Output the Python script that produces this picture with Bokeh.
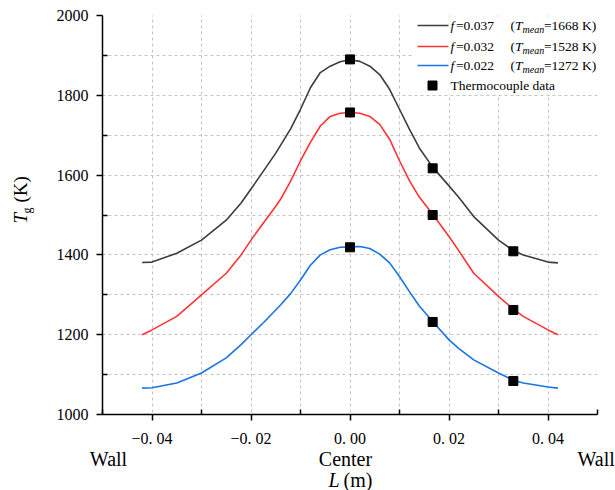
import math
from bokeh.plotting import figure
from bokeh.models import FixedTicker, Label, BoxAnnotation, Range1d
from bokeh.embed import file_html
from bokeh.resources import INLINE

# ---------------- data ----------------
L_pos = [-0.042, -0.040, -0.035, -0.030, -0.025, -0.022, -0.020, -0.0175, -0.015, -0.014,
         -0.012, -0.010, -0.008, -0.006, -0.004, -0.002, 0.0, 0.002, 0.004, 0.006, 0.008,
         0.010, 0.012, 0.014, 0.0167, 0.020, 0.022, 0.025, 0.030, 0.033, 0.035, 0.040, 0.042]
T_f037 = [1381, 1382, 1404, 1437, 1487, 1530, 1565, 1610, 1655, 1675,
          1716, 1765, 1819, 1857, 1873, 1884, 1889, 1885, 1873, 1852, 1815,
          1765, 1715, 1668, 1620, 1573, 1544, 1496, 1437, 1411, 1400, 1382, 1380]
T_f032 = [1200, 1212, 1246, 1300, 1354, 1400, 1437, 1480, 1522, 1540,
          1585, 1636, 1682, 1723, 1747, 1755, 1757, 1755, 1747, 1727, 1690,
          1636, 1586, 1545, 1502, 1446, 1410, 1354, 1296, 1264, 1246, 1212, 1200]
T_f022 = [1066, 1067, 1079, 1104, 1142, 1175, 1200, 1230, 1262, 1275,
          1303, 1337, 1374, 1400, 1413, 1419, 1420, 1421, 1416, 1402, 1380,
          1346, 1308, 1272, 1233, 1187, 1165, 1137, 1104, 1086, 1079, 1069, 1066]

tc_pos = [0.0, 0.0167, 0.033]
tc_f037 = [1890, 1617, 1409]
tc_f032 = [1757, 1500, 1262]
tc_f022 = [1419, 1232, 1084]

f_labels = ["0.037", "0.032", "0.022"]
tmean_labels = ["1668", "1528", "1272"]

x_major = [-0.04, -0.02, 0.0, 0.02, 0.04]
x_minor = [-0.05, -0.03, -0.01, 0.01, 0.03, 0.05]
x_tick_text = ["\u22120. 04", "\u22120. 02", "0. 00", "0. 02", "0. 04"]
x_grid = [-0.04, -0.03, -0.02, -0.01, 0.0, 0.01, 0.02, 0.03, 0.04]
y_major = [1000, 1200, 1400, 1600, 1800, 2000]
y_minor = [1100, 1300, 1500, 1700, 1900]
y_grid = [1100, 1200, 1300, 1400, 1500, 1600, 1700, 1800, 1900]

# ---------------- layout ----------------
W, H = 615, 490
PL, PT = 102, 15            # pixel position of (x=-0.05, T=2000)
SX, SY = 4950.0, 0.399      # px per unit x, px per K
XMIN, XMAX, YMIN, YMAX = -0.05, 0.05, 1000, 2000

def X(px):
    return XMIN + (px - PL) / SX

def Y(py):
    return YMAX - (py - PT) / SY

SERIF = "Liberation Serif"

p = figure(width=W, height=H, output_backend="svg", toolbar_location=None,
           x_range=Range1d(X(0), X(W)), y_range=Range1d(Y(H), Y(0)),
           min_border=0, min_border_left=0, min_border_right=0,
           min_border_top=0, min_border_bottom=0)
p.outline_line_color = None
p.background_fill_color = "white"
p.border_fill_color = "white"

# axes drawn at fixed locations inside the full-canvas frame
xa, ya = p.xaxis[0], p.yaxis[0]
xa.fixed_location = YMIN
ya.fixed_location = XMIN
xa.bounds = (XMIN, XMAX)
ya.bounds = (YMIN, YMAX)
for ax in (xa, ya):
    ax.axis_line_color = "black"
    ax.axis_line_width = 1.5
    ax.major_tick_line_color = "black"
    ax.minor_tick_line_color = "black"
    ax.major_tick_line_width = 1.5
    ax.minor_tick_line_width = 1.5
    ax.major_tick_out = 6
    ax.major_tick_in = 0
    ax.minor_tick_out = 0
    ax.minor_tick_in = 5
    ax.major_label_text_font = SERIF
    ax.major_label_text_font_size = "16px"
    ax.major_label_text_color = "black"

xa.ticker = FixedTicker(ticks=x_major, minor_ticks=x_minor)
xa.major_label_overrides = {t: s for t, s in zip(x_major, x_tick_text)}
xa.major_label_standoff = 9
ya.ticker = FixedTicker(ticks=y_major, minor_ticks=y_minor)
ya.major_label_standoff = 8

# grids
p.xgrid[0].ticker = FixedTicker(ticks=x_grid)
p.ygrid[0].ticker = FixedTicker(ticks=y_grid)
for g in (p.xgrid[0], p.ygrid[0]):
    g.grid_line_color = "#c4c4c4"
    g.grid_line_dash = "3 3"
    g.grid_line_width = 1

# white masks so that grid lines stay inside the plotting area
def mask(left, right, bottom, top):
    p.add_layout(BoxAnnotation(left=left, right=right, bottom=bottom, top=top, level="underlay",
                               fill_color="white", fill_alpha=1.0, line_color=None))

mask(X(0), X(W), Y(H), YMIN)          # below the x axis
mask(X(0), X(W), YMAX, Y(0))          # above the plot
mask(X(0), XMIN, Y(H), Y(0))          # left of the y axis
mask(XMAX, X(W), Y(H), Y(0))          # right of the plot
mask(X(413), XMAX, Y(94), Y(17))      # legend background

colors = ["#3d3d3d", "#ff3333", "#1a74e6"]
series = [T_f037, T_f032, T_f022]
tcs = [tc_f037, tc_f032, tc_f022]

for c, s in zip(colors, series):
    p.line(L_pos, s, line_color=c, line_width=1.6, line_join="round")
for tc in tcs:
    p.scatter(tc_pos, tc, marker="square", size=9, fill_color="black", line_color="black")


def lab(px, py, txt, size, style="normal", align="left", angle=0.0):
    p.add_layout(Label(x=X(px), y=Y(py), text=txt, text_font=SERIF, text_font_size=size,
                       text_font_style=style, text_color="black", text_align=align,
                       text_baseline="middle", angle=angle))

# ---------------- legend (manual) ----------------
row_py = [25, 46, 65, 85]
FS = "13.5px"
for i in range(3):
    ry = row_py[i]
    p.line([X(417), X(448)], [Y(ry), Y(ry)], line_color=colors[i], line_width=1.6)
    lab(450, ry, "f", FS, "italic")
    lab(455.5, ry, "=" + f_labels[i], FS)
    lab(510, ry, "(", FS)
    lab(514.5, ry, "T", FS, "italic")
    lab(522, ry + 4, "mean", "10px", "italic")
    lab(543.5, ry, "=" + tmean_labels[i] + " K)", FS)
p.scatter([X(432)], [Y(row_py[3])], marker="square", size=9, fill_color="black", line_color="black")
lab(450, row_py[3], "Thermocouple data", FS)

# ---------------- axis titles (manual) ----------------
BIG = "20px"
lab(108, 458, "Wall", BIG, align="center")
lab(345, 458, "Center", BIG, align="center")
lab(577, 458, "Wall", BIG)
lab(328, 479, "L", BIG, "italic")
lab(343, 479, "(m)", BIG)

# y title rotated
ang = math.pi / 2
lab(20, 223, "T", "19px", "italic", angle=ang)
lab(26, 213, "g", "12px", angle=ang)
lab(20, 202, "(K)", "19px", angle=ang)

open("out.html", "w").write(file_html(p, INLINE))
